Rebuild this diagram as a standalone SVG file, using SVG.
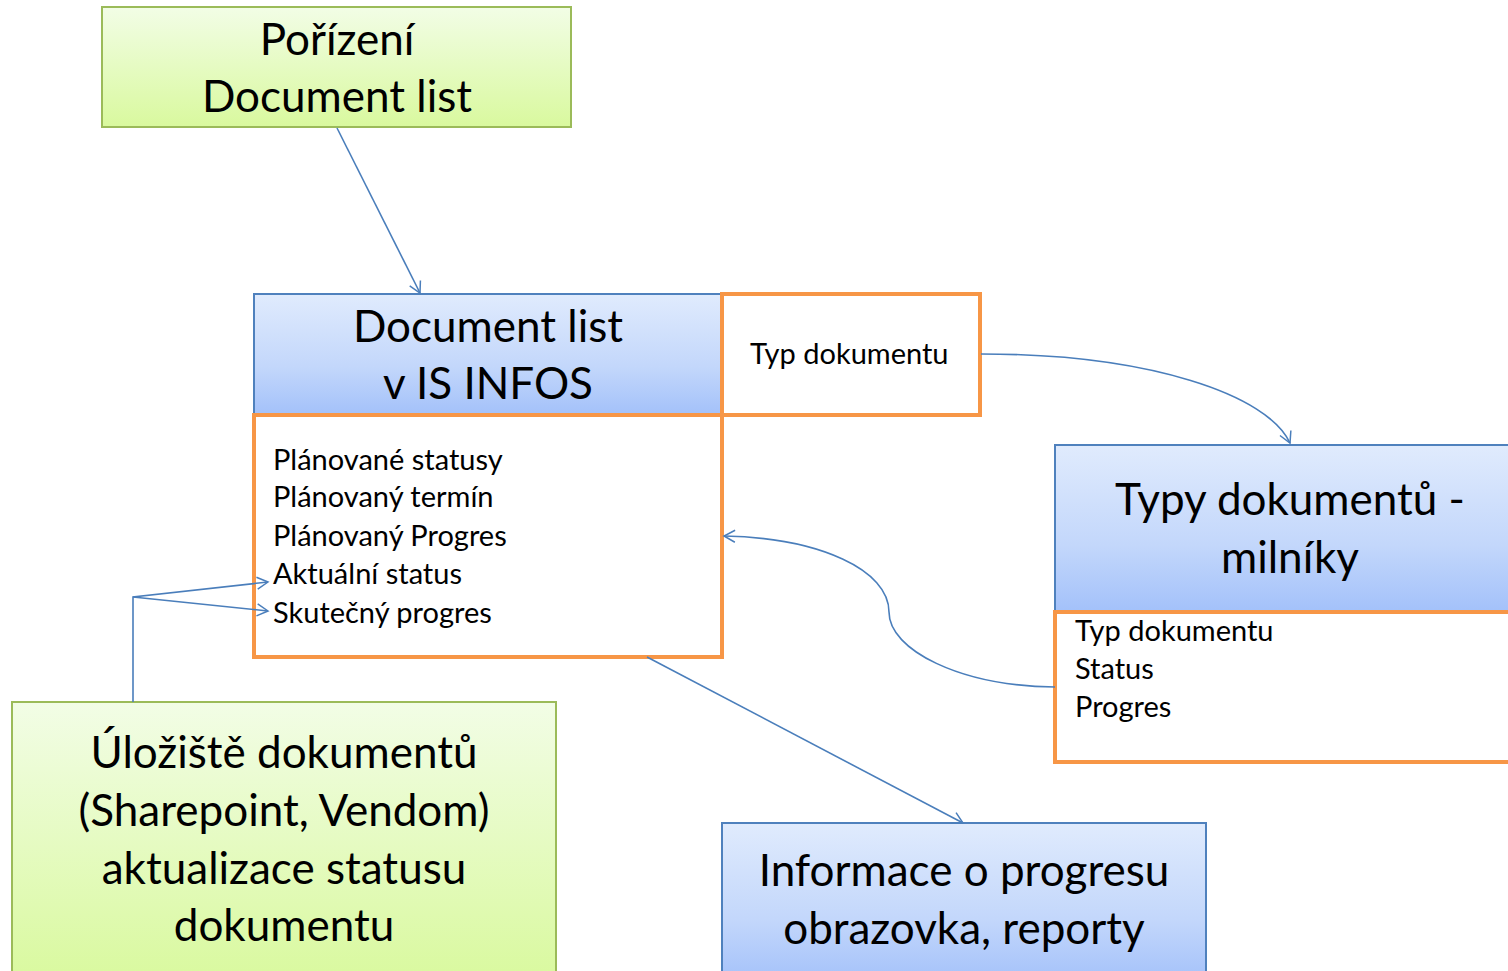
<svg xmlns="http://www.w3.org/2000/svg" width="1508" height="971" viewBox="0 0 1508 971">
<defs>
<linearGradient id="gGreen" x1="0" y1="0" x2="0" y2="1">
<stop offset="0" stop-color="#f2fde6"/>
<stop offset="1" stop-color="#d9f99e"/>
</linearGradient>
<linearGradient id="gBlue" x1="0" y1="0" x2="0" y2="1">
<stop offset="0" stop-color="#e0ebfd"/>
<stop offset="0.6" stop-color="#c3d7fb"/>
<stop offset="1" stop-color="#a3c1fa"/>
</linearGradient>
<marker id="arr" markerWidth="14" markerHeight="14" refX="12" refY="7" orient="auto" markerUnits="userSpaceOnUse">
<path d="M1,1 L12,7 L1,13" fill="none" stroke="#4a7ebb" stroke-width="1.5"/>
</marker>
<style>
.green{fill:url(#gGreen);stroke:#9bbb59;stroke-width:2}
.blue{fill:url(#gBlue);stroke:#4f81bd;stroke-width:2}
.orange{fill:#ffffff;stroke:#f79646;stroke-width:4}
.big{font-family:Lato,"Open Sans","Noto Sans",sans-serif;font-size:44px;fill:#000;text-anchor:middle}
.small{font-family:Lato,"Open Sans","Noto Sans",sans-serif;font-size:29px;fill:#000}
.conn{fill:none;stroke:#4a7ebb;stroke-width:1.6}
</style>
</defs>
<rect width="1508" height="971" fill="#ffffff"/>
<g id="porizeni">
<rect class="green" x="102" y="7" width="469" height="120"/>
<text class="big" x="337" y="55">Pořízení</text>
<text class="big" x="337" y="112">Document list</text>
</g>
<g id="document-list">
<rect class="blue" x="254" y="294" width="468" height="121"/>
<text class="big" x="488" y="342">Document list</text>
<text class="big" x="488" y="399">v IS INFOS</text>
</g>
<g id="typ-dokumentu">
<rect class="orange" x="722" y="294" width="258" height="121"/>
<text class="small" x="750" y="364">Typ dokumentu</text>
</g>
<g id="statusy">
<rect class="orange" x="254" y="415" width="468" height="242"/>
<text class="small" x="273" y="470">Plánované statusy</text>
<text class="small" x="273" y="507">Plánovaný termín</text>
<text class="small" x="273" y="546">Plánovaný Progres</text>
<text class="small" x="273" y="584">Aktuální status</text>
<text class="small" x="273" y="623">Skutečný progres</text>
</g>
<g id="typy-dokumentu">
<rect class="blue" x="1055" y="445" width="470" height="167"/>
<text class="big" x="1290" y="515">Typy dokumentů -</text>
<text class="big" x="1290" y="573">milníky</text>
</g>
<g id="typy-detail">
<rect class="orange" x="1055" y="612" width="470" height="150"/>
<text class="small" x="1075" y="641">Typ dokumentu</text>
<text class="small" x="1075" y="679">Status</text>
<text class="small" x="1075" y="717">Progres</text>
</g>
<g id="uloziste">
<rect class="green" x="12" y="702" width="544" height="280"/>
<text class="big" x="284" y="768">Úložiště dokumentů</text>
<text class="big" x="284" y="826">(Sharepoint, Vendom)</text>
<text class="big" x="284" y="884">aktualizace statusu</text>
<text class="big" x="284" y="941">dokumentu</text>
</g>
<g id="informace">
<rect class="blue" x="722" y="823" width="484" height="160"/>
<text class="big" x="964" y="886">Informace o progresu</text>
<text class="big" x="964" y="944">obrazovka, reporty</text>
</g>
<g id="connectors">
<path class="conn" d="M337,128 L420,293" marker-end="url(#arr)"/>
<path class="conn" d="M981,354 C1150,354 1268,395 1290,443" marker-end="url(#arr)"/>
<path class="conn" d="M1055,687 C960,686 889,650 889,612 C889,570 820,538 724,536" marker-end="url(#arr)"/>
<path class="conn" d="M133,702 L133,597 L268,582" marker-end="url(#arr)"/>
<path class="conn" d="M133,597 L268,611" marker-end="url(#arr)"/>
<path class="conn" d="M647,657 L963,823" marker-end="url(#arr)"/>
</g>
</svg>
